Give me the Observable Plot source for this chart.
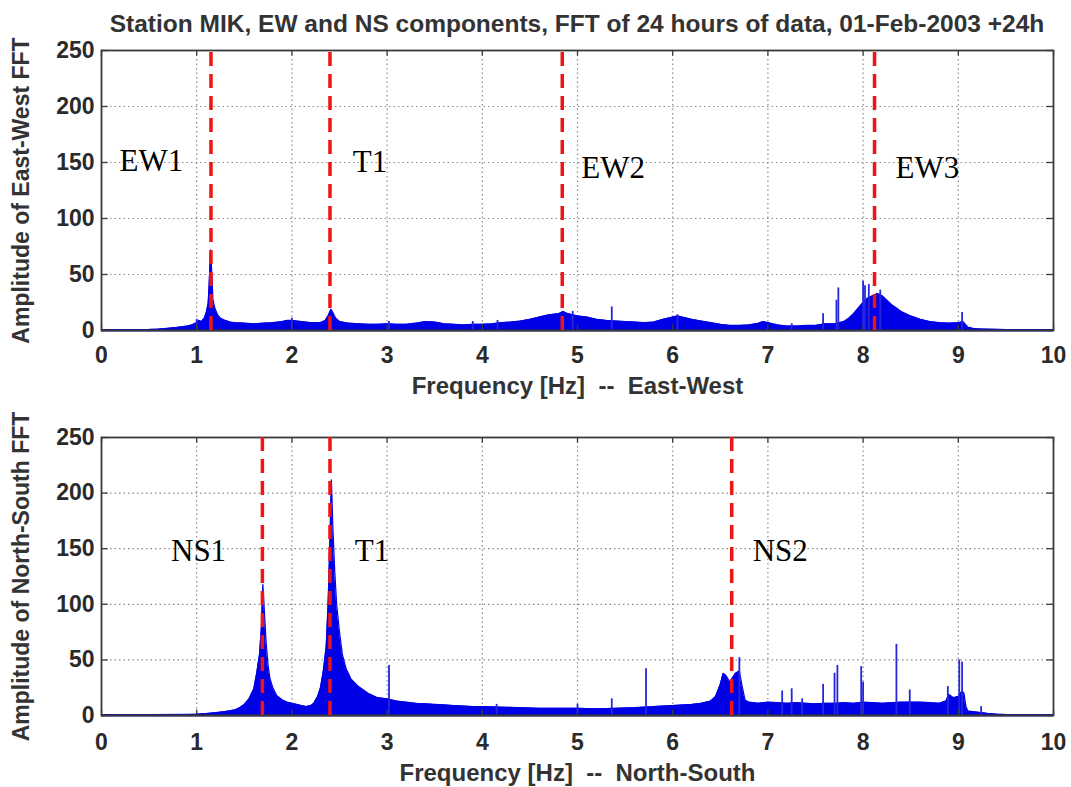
<!DOCTYPE html>
<html><head><meta charset="utf-8">
<script src="https://cdn.jsdelivr.net/npm/d3@7"></script>
<script src="https://cdn.jsdelivr.net/npm/@observablehq/plot@0.6"></script>
<style>
body{margin:0;background:#fff;width:1071px;height:787px;position:relative;overflow:hidden;font-family:"Liberation Sans",Arial,sans-serif}
#title{position:absolute;z-index:5;top:10px;left:101px;width:952px;text-align:center;font-size:24.5px;line-height:28px;font-weight:bold;color:#333;white-space:nowrap}
#p1{position:absolute;top:0;left:0}
#p2{position:absolute;top:390px;left:0}
svg{overflow:visible}
</style></head><body>
<div id="p1"></div><div id="p2"></div>
<div id="title">Station MIK, EW and NS components, FFT of 24 hours of data, 01-Feb-2003 +24h</div>
<script>
// ---- tick labels ----
const xTicks = [0,1,2,3,4,5,6,7,8,9,10];
const yTicks = [0,50,100,150,200,250];

// ---- East-West spectrum envelope [frequency Hz, amplitude] ----
const ewEnvelope = [
[0,0.8],[0.2,0.8],[0.4,0.9],[0.5,1.0],[0.6,1.3],[0.7,2.0],[0.8,2.8],[0.9,4.0],[0.95,5],[1.0,7],[1.02,9],[1.05,8],[1.08,11],
[1.1,16],[1.12,24],[1.13,40],[1.145,72],[1.16,50],[1.17,28],[1.19,20],[1.22,14],[1.25,11],[1.3,9],[1.35,7.5],[1.4,7],
[1.5,6.5],[1.6,6],[1.7,6.5],[1.8,7],[1.9,8],[1.95,9],[2.0,9],[2.05,8.5],[2.1,8],[2.2,7],[2.3,7],[2.35,9],[2.38,13],[2.41,19],
[2.43,16],[2.46,11],[2.5,8],[2.6,6.5],[2.7,6],[2.8,5.5],[2.9,5.5],[3.0,6],[3.1,5.5],[3.2,5.5],[3.3,6.5],[3.4,8],[3.5,7.5],
[3.6,6],[3.7,5.5],[3.8,5],[3.9,5.5],[4.0,5.5],[4.1,6],[4.2,7],[4.3,7.5],[4.4,8.5],[4.5,10],[4.6,12],[4.7,14],[4.8,15],
[4.85,17],[4.9,15],[4.95,14],[5.0,13],[5.1,12],[5.2,10],[5.3,9],[5.4,8.5],[5.5,8],[5.6,7.5],[5.7,7],[5.8,7.5],[5.9,10],
[6.0,12],[6.05,13],[6.1,12],[6.2,10],[6.3,8.5],[6.4,7],[6.5,5.5],[6.6,4.5],[6.7,4.5],[6.8,5],[6.9,6.5],[6.95,8],[7.0,7],
[7.1,5],[7.2,4],[7.3,4],[7.4,4.5],[7.5,4.5],[7.6,6],[7.7,6],[7.8,8],[7.85,11],[7.9,15],[7.95,20],[8.0,25],[8.05,29],
[8.1,31],[8.15,33],[8.2,31],[8.25,27],[8.3,23],[8.35,20],[8.4,17],[8.5,13],[8.6,10],[8.7,8],[8.8,7],[8.9,6.5],[9.0,7],
[9.05,8],[9.08,5],[9.1,3],[9.15,2],[9.2,1.5],[9.3,1.2],[9.5,0.9],[10,0.8]
];
// narrow spectral lines [frequency, amplitude]
const ewSpikes = [
[1.0,10],[2.0,11],[3.02,8],[3.9,8],[4.16,9],[4.95,17],[5.36,21],[6.05,14],[7.25,6],[7.58,15],[7.72,27],[7.74,38],
[8.0,44],[8.02,40],[8.06,41],[8.18,36],[9.04,16]
];
const ewModes = [1.15, 2.40, 4.84, 8.12];
const ewLabels = [["EW1",0.19,151],["T1",2.64,150],["EW2",5.04,145],["EW3",8.34,145]];

// ---- North-South spectrum envelope ----
const nsEnvelope = [
[0,0.8],[0.5,0.8],[0.9,1],[1.0,1.2],[1.1,1.8],[1.2,2.5],[1.3,3.5],[1.4,5],[1.45,7],[1.5,10],[1.55,15],[1.6,24],[1.63,38],
[1.66,55],[1.68,80],[1.695,118],[1.71,95],[1.73,65],[1.75,45],[1.77,33],[1.8,25],[1.84,18],[1.9,14],[1.95,12],[2.0,11],
[2.05,10],[2.1,9],[2.15,8],[2.2,9],[2.23,11],[2.27,17],[2.3,25],[2.33,40],[2.36,62],[2.38,100],[2.4,160],[2.415,212],
[2.43,170],[2.45,130],[2.47,100],[2.5,75],[2.53,55],[2.57,42],[2.62,33],[2.7,26],[2.8,20],[2.9,16],[3.0,15],[3.1,13],
[3.2,12],[3.3,11],[3.4,10.5],[3.5,10],[3.6,9.5],[3.7,9],[3.8,8.5],[3.9,8],[4.0,8],[4.2,7.5],[4.4,7],[4.6,6.5],[4.8,6.5],
[5.0,6.5],[5.2,6],[5.4,6.5],[5.6,7],[5.8,8],[6.0,9],[6.2,10],[6.3,11],[6.4,13],[6.45,17],[6.5,28],[6.53,38],[6.56,36],
[6.6,30],[6.63,34],[6.66,38],[6.7,40],[6.73,26],[6.76,14],[6.8,12],[6.9,11],[7.0,12],[7.1,11.5],[7.2,11],[7.3,11.5],
[7.4,11],[7.5,10.5],[7.6,11],[7.7,11],[7.8,11.5],[7.9,11],[8.0,12],[8.1,11.5],[8.2,11],[8.3,11.5],[8.4,12],[8.5,12],
[8.6,12],[8.7,11.5],[8.8,11],[8.87,13],[8.9,19],[8.95,16],[9.0,17],[9.04,22],[9.06,20],[9.08,8],[9.1,4],[9.2,3],[9.3,2],
[9.4,1.2],[9.5,0.9],[10,0.8]
];
const nsSpikes = [
[3.02,45],[4.15,10],[5.0,10],[5.36,15],[5.72,42],[6.7,52],[7.15,22],[7.25,24],[7.36,15],[7.58,28],[7.7,38],[7.73,45],
[7.98,44],[8.0,30],[8.35,64],[8.49,23],[8.89,26],[9.01,50],[9.04,48],[9.24,8]
];
const nsModes = [1.69, 2.40, 6.62];
const nsLabels = [["NS1",0.73,148],["T1",2.66,148],["NS2",6.84,148]];

function panel({env, spikes, modes, labels, ylabel, xlabel, marginTop, marginBottom, height, redTop, xlabelDy, tickPad}) {
  const envData = env.map(([f,a]) => ({f, a}));
  const spikeData = spikes.map(([f,a]) => ({f, a}));
  const labelData = labels.map(([t,x,y]) => ({t, x, y}));
  return Plot.plot({
    width: 1071, height, marginTop, marginBottom, marginLeft: 101, marginRight: 18,
    x: {domain: [0, 10], axis: null},
    y: {domain: [0, 250], axis: null},
    style: {fontFamily: '"Liberation Sans", Arial, sans-serif', color: "#2a2a2a", background: "transparent", overflow: "visible"},
    marks: [
      Plot.gridX(xTicks.slice(1, -1), {x: d => d, stroke: "#8a8a8a", strokeOpacity: 1, strokeWidth: 1.2, strokeDasharray: "1.5,3"}),
      Plot.gridY(yTicks.slice(1, -1), {y: d => d, stroke: "#8a8a8a", strokeOpacity: 1, strokeWidth: 1.2, strokeDasharray: "1.5,3"}),
      Plot.areaY(envData, {x: "f", y: "a", fill: "#0000e6", curve: "linear"}),
      Plot.line(envData, {x: "f", y: "a", stroke: "#0000e6", strokeWidth: 1.2}),
      Plot.ruleX(spikeData, {x: "f", y1: 0, y2: "a", stroke: "#2626dc", strokeWidth: 1.8}),
      Plot.ruleY([0], {stroke: "#16168a", strokeWidth: 2.2}),
      Plot.frame({stroke: "#3a3a3a", strokeWidth: 1.8}),
      Plot.ruleX(xTicks, {x: d => d, y1: 0, y2: 5, stroke: "#3a3a3a", strokeWidth: 1.3}),
      Plot.ruleX(xTicks, {x: d => d, y1: 245, y2: 250, stroke: "#3a3a3a", strokeWidth: 1.3}),
      Plot.ruleY(yTicks, {y: d => d, x1: 0, x2: 0.07, stroke: "#3a3a3a", strokeWidth: 1.3}),
      Plot.ruleY(yTicks, {y: d => d, x1: 9.93, x2: 10, stroke: "#3a3a3a", strokeWidth: 1.3}),
      Plot.ruleX(modes, {x: d => d, y1: 0, y2: redTop, stroke: "#f01414", strokeWidth: 3.5, strokeDasharray: "14,8"}),
      Plot.text(labelData, {x: "x", y: "y", text: "t", textAnchor: "start", lineAnchor: "middle",
        fontFamily: '"Liberation Serif", "Times New Roman", serif', fontSize: 31, fill: "#000"}),
      Plot.axisX({ticks: xTicks, tickSize: 0, tickPadding: tickPad, fontSize: 23, fontWeight: "bold", label: null}),
      Plot.axisY({ticks: yTicks, tickSize: 0, tickPadding: 7, fontSize: 23, fontWeight: "bold", label: null}),
      Plot.text([xlabel], {frameAnchor: "bottom", dy: xlabelDy, fontSize: 24, fontWeight: "bold", fill: "#333"}),
      Plot.text([ylabel], {frameAnchor: "left", textAnchor: "middle", dx: -80, rotate: -90, fontSize: 23, fontWeight: "bold", fill: "#333"})
    ]
  });
}

document.getElementById("p1").append(panel({
  env: ewEnvelope, spikes: ewSpikes, modes: ewModes, labels: ewLabels,
  ylabel: "Amplitude of East-West FFT", xlabel: "Frequency [Hz]  --  East-West",
  marginTop: 50, marginBottom: 60, height: 390, redTop: 251, xlabelDy: 63, tickPad: 16
}));
document.getElementById("p2").append(panel({
  env: nsEnvelope, spikes: nsSpikes, modes: nsModes, labels: nsLabels,
  ylabel: "Amplitude of North-South FFT", xlabel: "Frequency [Hz]  --  North-South",
  marginTop: 47, marginBottom: 72, height: 397, redTop: 256, xlabelDy: 65, tickPad: 18
}));
</script>
</body></html>
